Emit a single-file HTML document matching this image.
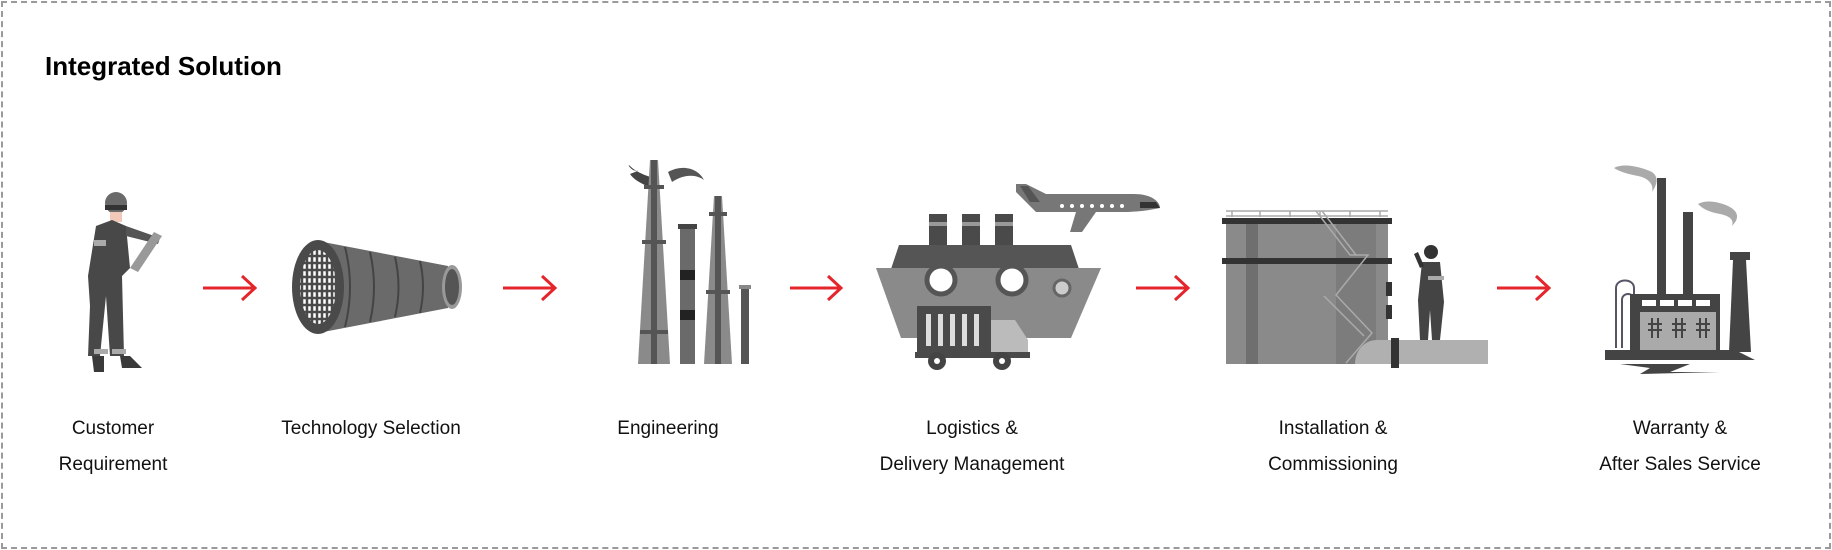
<!DOCTYPE html>
<html><head><meta charset="utf-8"><style>
html,body{margin:0;padding:0;background:#fff;}
#c{position:relative;width:1832px;height:550px;overflow:hidden;font-family:"Liberation Sans",sans-serif;}
.frame{position:absolute;left:1px;top:1px;width:1826px;height:544px;border:2px dashed #9a9a9a;}
h1{position:absolute;left:45px;top:51px;margin:0;font-size:26px;font-weight:bold;color:#000;}
.l{position:absolute;width:300px;text-align:center;font-size:19px;line-height:36px;color:#111;}
svg{position:absolute;left:0;top:0;}
</style></head><body><div id="c">
<div class="frame"></div>
<h1>Integrated Solution</h1>
<svg width="1832" height="550" viewBox="0 0 1832 550">
<g stroke="#e4262c" stroke-width="3" fill="none">
<path d="M203 288H255M242 276L255 288L242 300"/>
<path d="M503 288H555M542 276L555 288L542 300"/>
<path d="M790 288H841M828 276L841 288L828 300"/>
<path d="M1136 288H1188M1175 276L1188 288L1175 300"/>
<path d="M1497 288H1549M1536 276L1549 288L1536 300"/>
</g>
<g>
<circle cx="116" cy="203" r="11" fill="#6a6a6a"/>
<rect x="105" y="205" width="22" height="5" fill="#333"/>
<path d="M110 212h12v10h-12z" fill="#f2c9b8"/>
<path d="M96 226l16-6 14 6 4 42-8 8 2 80h-14l-4-60-6 60h-12l2-50-2-30z" fill="#484848"/>
<rect x="94" y="240" width="12" height="6" fill="#aaa"/>
<rect x="94" y="349" width="14" height="5" fill="#aaa"/>
<rect x="112" y="349" width="14" height="5" fill="#aaa"/>
<path d="M126 226l34 12-2 6-32-8z" fill="#555"/>
<path d="M154 232l8 4-24 36-8-4z" fill="#999"/>
<path d="M92 356h12v16h-10z M120 356h10l12 12h-20z" fill="#3a3a3a"/>
</g>
<g>
<path d="M318 241L448 266L448 308L318 333z" fill="#6a6a6a"/>
<g stroke="#444" stroke-width="2" fill="none">
<path d="M345 247q10 40 0 80M370 252q8 35 0 70M395 257q7 30 0 60M420 261q6 26 0 52"/>
</g>
<ellipse cx="452" cy="287" rx="10" ry="22" fill="#999"/>
<ellipse cx="452" cy="287" rx="7" ry="18" fill="#555"/>
<ellipse cx="318" cy="287" rx="26" ry="47" fill="#4a4a4a"/>
<ellipse cx="318" cy="287" rx="19" ry="38" fill="#fff"/>
<ellipse cx="318" cy="287" rx="19" ry="38" fill="none" stroke="#4a4a4a" stroke-width="2"/>
<g stroke="#4a4a4a" stroke-width="2.5">
<path d="M302 255v64M307 252v70M312 250v74M317 249v76M322 249v76M327 250v74M332 253v68M336 258v58"/>
<path d="M300 256h36M300 263h36M300 270h36M300 277h36M300 284h36M300 291h36M300 298h36M300 305h36M300 312h36M300 319h36"/>
</g>
</g>
<g>
<path d="M640 170c-8 4-14-8-10-4 6 6 16 10 24 12l-2 10c-10-4-18-8-22-14z" fill="#444"/>
<path d="M668 172c14-8 30-4 36 8-8-6-20-6-32 2z" fill="#555"/>
<path d="M650 160h8l12 204h-32z" fill="#8a8a8a"/>
<path d="M651 160h6v204h-6z" fill="#555"/>
<rect x="644" y="185" width="20" height="4" fill="#555"/>
<rect x="642" y="240" width="24" height="4" fill="#555"/>
<rect x="640" y="330" width="28" height="4" fill="#555"/>
<path d="M714 196h8l10 168h-28z" fill="#8a8a8a"/>
<rect x="715" y="196" width="6" height="168" fill="#555"/>
<rect x="709" y="212" width="18" height="4" fill="#555"/>
<rect x="706" y="290" width="24" height="4" fill="#555"/>
<rect x="680" y="226" width="15" height="138" fill="#6a6a6a"/>
<rect x="678" y="224" width="19" height="5" fill="#444"/>
<rect x="680" y="270" width="15" height="10" fill="#222"/>
<rect x="680" y="310" width="15" height="10" fill="#222"/>
<rect x="741" y="287" width="8" height="77" fill="#555"/>
<rect x="739" y="285" width="12" height="4" fill="#888"/>
</g>
<g>
<path d="M1016 184h10l20 10h88c18 0 26 8 26 14-10 2-20 4-40 4l-24 0-14 20h-12l6-20h-40l-20-20z" fill="#777"/>
<path d="M1020 186l8 0 12 16-10 0z" fill="#555"/>
<g fill="#fff"><circle cx="1062" cy="206" r="2"/><circle cx="1072" cy="206" r="2"/><circle cx="1082" cy="206" r="2"/><circle cx="1092" cy="206" r="2"/><circle cx="1102" cy="206" r="2"/><circle cx="1112" cy="206" r="2"/><circle cx="1122" cy="206" r="2"/></g>
<path d="M1140 202h16l4 6h-20z" fill="#333"/>
<rect x="929" y="214" width="18" height="34" fill="#4a4a4a"/>
<rect x="962" y="214" width="18" height="34" fill="#4a4a4a"/>
<rect x="995" y="214" width="18" height="34" fill="#4a4a4a"/>
<rect x="929" y="222" width="18" height="4" fill="#999"/>
<rect x="962" y="222" width="18" height="4" fill="#999"/>
<rect x="995" y="222" width="18" height="4" fill="#999"/>
<path d="M899 245h172l8 24h-188z" fill="#555"/>
<path d="M876 268h225l-30 70h-170z" fill="#8a8a8a"/>
<circle cx="941" cy="280" r="14" fill="#fff" stroke="#555" stroke-width="5"/>
<circle cx="1012" cy="280" r="14" fill="#fff" stroke="#555" stroke-width="5"/>
<circle cx="1062" cy="288" r="8" fill="#ccc" stroke="#666" stroke-width="3"/>
<rect x="917" y="306" width="74" height="48" fill="#4a4a4a"/>
<g fill="#ddd"><rect x="926" y="314" width="5" height="32"/><rect x="938" y="314" width="5" height="32"/><rect x="950" y="314" width="5" height="32"/><rect x="962" y="314" width="5" height="32"/><rect x="974" y="314" width="5" height="32"/></g>
<path d="M991 320h24l13 20v14h-37z" fill="#bbb"/>
<rect x="915" y="352" width="115" height="6" fill="#4a4a4a"/>
<circle cx="937" cy="361" r="9" fill="#444"/><circle cx="937" cy="361" r="3" fill="#fff"/>
<circle cx="1002" cy="361" r="9" fill="#444"/><circle cx="1002" cy="361" r="3" fill="#fff"/>
</g>
<g>
<rect x="1226" y="222" width="162" height="142" fill="#8a8a8a"/>
<rect x="1246" y="222" width="12" height="142" fill="#6f6f6f"/>
<rect x="1336" y="222" width="40" height="142" fill="#7c7c7c"/>
<rect x="1222" y="218" width="170" height="6" fill="#333"/>
<rect x="1222" y="258" width="170" height="6" fill="#333"/>
<g stroke="#aaa" stroke-width="1.5" fill="none">
<path d="M1226 211h162M1226 216h162M1232 211v6M1260 211v6M1290 211v6M1320 211v6M1350 211v6M1380 211v6"/>
<path d="M1316 211l34 44h18l-32 40 36 38-26 30"/>
<path d="M1322 211l34 44M1324 296l40 40"/>
</g>
<rect x="1386" y="282" width="6" height="14" fill="#333"/>
<rect x="1386" y="305" width="6" height="14" fill="#333"/>
<path d="M1355 364c0-14 10-24 22-24h111v24z" fill="#b0b0b0"/>
<rect x="1391" y="338" width="8" height="30" fill="#333"/>
<circle cx="1431" cy="252" r="7" fill="#333"/>
<path d="M1422 262h18l4 40-4 38h-8l-2-30-2 30h-8l-2-40z" fill="#444"/>
<rect x="1428" y="276" width="16" height="4" fill="#aaa"/>
<path d="M1414 254l6 14 4-2-6-14z" fill="#333"/>
</g>
<g>
<path d="M1614 168c10-6 30 0 38 4 8 6 4 14 0 20 2-8-4-14-14-16-10-2-18-4-24-8z" fill="#aaa"/>
<path d="M1698 204c10-6 30 0 36 6 6 6 2 12-2 16 2-6-2-10-12-12-10-2-16-4-22-10z" fill="#aaa"/>
<rect x="1657" y="178" width="9" height="120" fill="#444"/>
<rect x="1683" y="212" width="10" height="86" fill="#444"/>
<path d="M1730 252h20v8h-4l5 92h-22l4-92h-3z" fill="#444"/>
<g stroke="#556" stroke-width="2" fill="none"><path d="M1616 348v-60c0-10 18-10 18 0v16"/><path d="M1622 348v-48c0-8 12-8 12 0"/></g>
<rect x="1630" y="294" width="90" height="58" fill="#444"/>
<g fill="#fff"><rect x="1642" y="300" width="14" height="6"/><rect x="1660" y="300" width="14" height="6"/><rect x="1678" y="300" width="14" height="6"/><rect x="1696" y="300" width="14" height="6"/></g>
<rect x="1640" y="312" width="76" height="40" fill="#aaa"/>
<g stroke="#444" stroke-width="2" fill="none"><path d="M1652 318v20M1658 318v20M1648 324h14M1648 330h14M1676 318v20M1682 318v20M1672 324h14M1672 330h14M1700 318v20M1706 318v20M1696 324h14M1696 330h14"/></g>
<path d="M1605 350h130l20 10h-150z" fill="#444"/>
<path d="M1620 364h70l-20 8h50l-80 2 10-6z" fill="#444"/>
</g>
</svg>
<div class="l" style="left:-37px;top:411px">Customer<br>Requirement</div>
<div class="l" style="left:221px;top:411px">Technology Selection</div>
<div class="l" style="left:518px;top:411px">Engineering</div>
<div class="l" style="left:822px;top:411px">Logistics &amp;<br>Delivery Management</div>
<div class="l" style="left:1183px;top:411px">Installation &amp;<br>Commissioning</div>
<div class="l" style="left:1530px;top:411px">Warranty &amp;<br>After Sales Service</div>
</div></body></html>
